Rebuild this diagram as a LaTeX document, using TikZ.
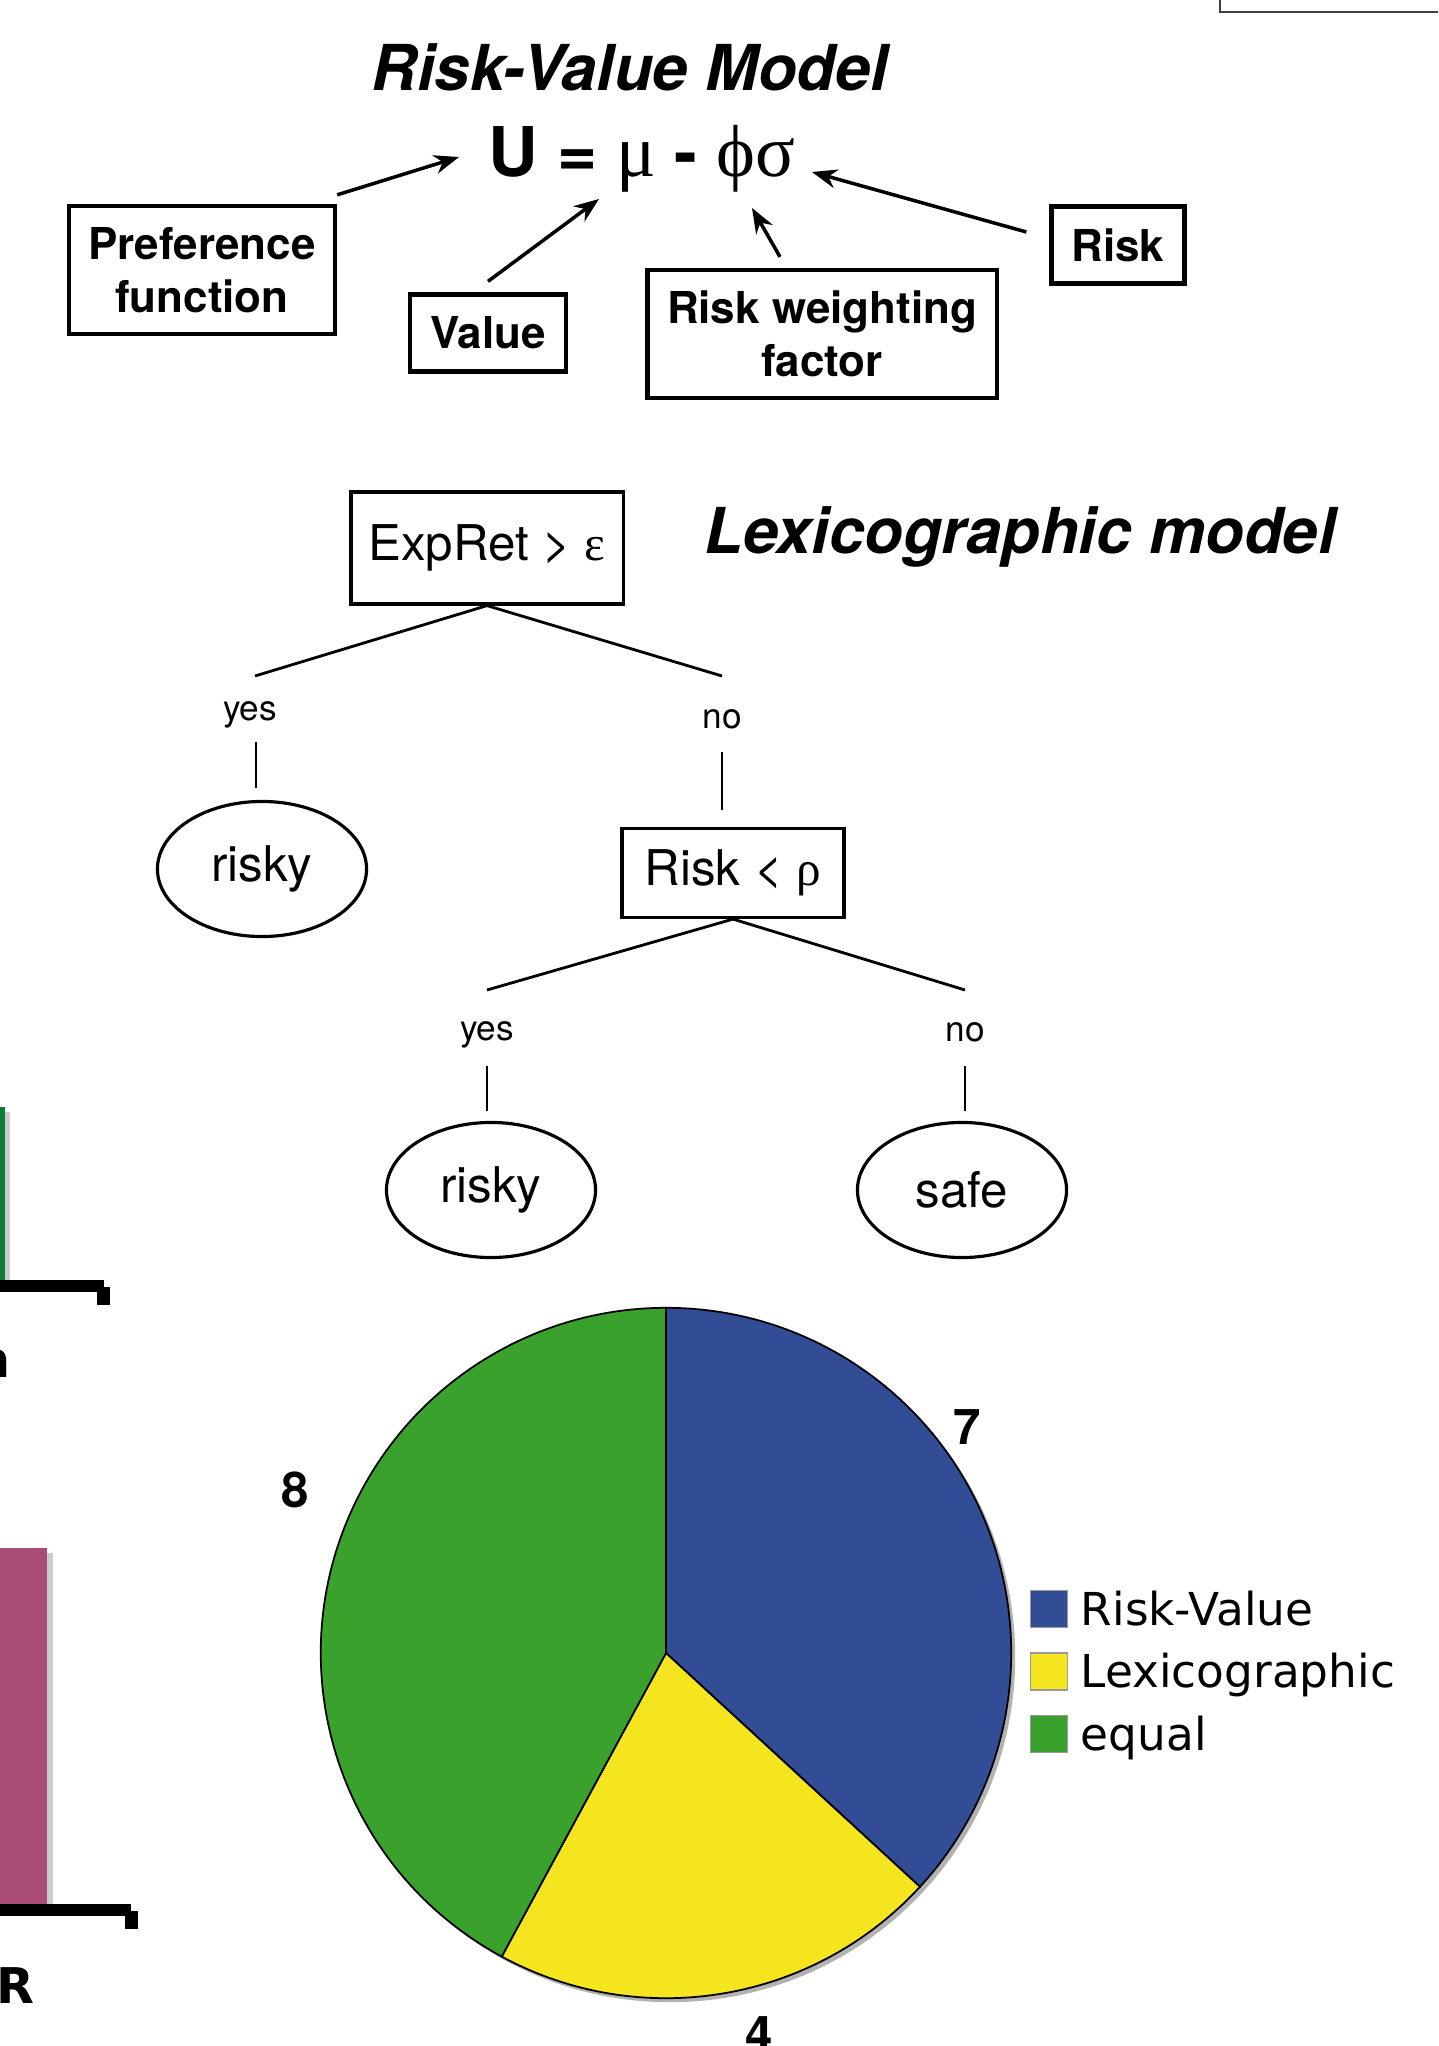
\documentclass[tikz,border=0pt]{standalone}
\usepackage{fontspec}
\setmainfont{TeX Gyre Heros}
\newfontfamily\symfont{Liberation Serif}
\newfontfamily\legendfont{DejaVu Sans}
\usepackage{tikz}
\usetikzlibrary{shapes,positioning,arrows.meta}

\definecolor{rvblue}{HTML}{334C96}
\definecolor{lexyellow}{HTML}{F5E51F}
\definecolor{eqgreen}{HTML}{3AA22C}
\definecolor{bargreen}{HTML}{0B7B36}
\definecolor{barpink}{HTML}{A94C78}

\newcommand{\grk}[1]{{\symfont\mdseries #1}}

\begin{document}
\begin{tikzpicture}[x=0.01cm,y=-0.01cm,
    >={Stealth[length=0.25cm,width=0.19cm]},
    termbox/.style={draw,line width=1.2pt,align=center,inner sep=0pt,
        font=\fontsize{12.5}{15}\selectfont\bfseries},
    testbox/.style={draw,line width=0.9pt,inner sep=0pt,
        font=\fontsize{14}{17}\selectfont},
    leaf/.style={draw,ellipse,line width=0.9pt,inner sep=0pt,
        minimum width=2.09cm,minimum height=1.35cm,
        font=\fontsize{14}{17}\selectfont},
    answer/.style={inner sep=0pt,anchor=base,text height=5.2pt,text depth=2.1pt,
        font=\fontsize{10}{12}\selectfont},
    branch/.style={line width=0.8pt},
    heading/.style={inner sep=0pt,anchor=base,
        font=\fontsize{18}{22}\selectfont\bfseries\itshape},
    slicecount/.style={inner sep=0pt,font=\fontsize{14}{17}\selectfont\bfseries},
    slice/.style={draw=black,line width=0.5pt},
    swatch/.style={draw=black!40,line width=0.4pt,minimum size=0.37cm,inner sep=0pt},
    legendtext/.style={inner sep=0pt,text height=9.2pt,text depth=0pt,
        font=\legendfont\fontsize{12.9}{15}\selectfont},
    cuttext/.style={inner sep=0pt,font=\legendfont\bfseries\fontsize{14}{17}\selectfont}
]

\useasboundingbox (0,0) rectangle (1438,2046);
\clip (0,0) rectangle (1438,2046);

% risk-value model
\node[heading] (rvtitle) at (630,91) {Risk-Value Model};

\node[inner sep=0pt,
    anchor=base,
    font=\fontsize{19.5}{22}\selectfont\bfseries
] (eq) at (642,177) {U = \grk{\fontsize{21}{24}\selectfont μ} - \grk{\fontsize{21}{24}\selectfont ϕσ}};

\node[termbox,
    minimum width=2.66cm,
    minimum height=1.28cm
] (pref) at (202,270) {Preference\\function};

\node[termbox,
    minimum width=1.56cm,
    minimum height=0.77cm
] (value) at (488,333) {Value};

\node[termbox,
    minimum width=3.49cm,
    minimum height=1.28cm
] (weight) at (822,334) {Risk weighting\\factor};

\node[termbox,
    minimum width=1.33cm,
    minimum height=0.77cm
] (risk) at (1118,245) {Risk};

\coordinate (atU) at (459,157);
\coordinate (atMu) at (599,199);
\coordinate (atPhi) at (752,208);
\coordinate (atSigma) at (812,172);

\draw[->,line width=1pt] ([yshift=0.09cm]pref.north east) -- (atU);
\draw[->,line width=1pt] ([yshift=0.11cm]value.north) -- (atMu);
\draw[->,line width=1pt] ([xshift=-0.42cm,yshift=0.11cm]weight.north) -- (atPhi);
\draw[->,line width=1pt] ([xshift=-0.23cm,yshift=0.13cm]risk.west) -- (atSigma);

% lexicographic model
\node[heading] (lextitle) at (1020,554) {Lexicographic model};

\node[testbox,
    minimum width=2.72cm,
    minimum height=1.12cm
] (expret) at (487,548) {ExpRet > \grk{ε}};

\node[answer] (yes1) at (250,720) {yes};
\node[answer] (no1) at (722,728) {no};

\node[leaf] (risky1) at (262,869) {risky};

\node[testbox,
    minimum width=2.22cm,
    minimum height=0.89cm
] (riskrho) at (733,873) {Risk < \grk{ρ}};

\node[answer] (yes2) at (487,1040) {yes};
\node[answer] (no2) at (965,1041) {no};

\node[leaf] (risky2) at (491,1190) {risky};
\node[leaf] (safe) at (962,1190) {safe};

\draw[branch] (expret.south) -- ([xshift=0.05cm,yshift=0.25cm]yes1.north);
\draw[branch] (expret.south) -- ([yshift=0.33cm]no1.north);
\draw[branch] ([xshift=0.06cm,yshift=-0.14cm]yes1.south) -- ([xshift=0.06cm,yshift=0.12cm]yes1.south |- risky1.north);
\draw[branch] ([yshift=-0.16cm]no1.south) -- ([yshift=0.17cm]no1.south |- riskrho.north);

\draw[branch] (riskrho.south) -- ([yshift=0.31cm]yes2.north);
\draw[branch] (riskrho.south) -- ([yshift=0.32cm]no2.north);
\draw[branch] ([yshift=-0.18cm]yes2.south) -- ([yshift=0.1cm]yes2.south |- risky2.north);
\draw[branch] ([yshift=-0.17cm]no2.south) -- ([yshift=0.1cm]no2.south |- safe.north);

% pie chart
\coordinate (pie) at (666,1653);
\fill[black!30] ([shift={(0.04cm,-0.04cm)}]pie) circle[radius=3.45cm];
\filldraw[slice,fill=rvblue] (pie) -- ++(90:3.45cm)
    arc[start angle=90,end angle=-42.63,radius=3.45cm] -- cycle;
\filldraw[slice,fill=lexyellow] (pie) -- ++(-42.63:3.45cm)
    arc[start angle=-42.63,end angle=-118.42,radius=3.45cm] -- cycle;
\filldraw[slice,fill=eqgreen] (pie) -- ++(-118.42:3.45cm)
    arc[start angle=-118.42,end angle=-270,radius=3.45cm] -- cycle;

\node[slicecount] (count7) at (967,1427) {7};
\node[slicecount] (count8) at (295,1490) {8};
\node[slicecount] (count4) at (759,2034) {4};

\node[swatch,fill=rvblue] (keyrv) at (1049,1609) {};
\node[swatch,fill=lexyellow,below=0.24cm of keyrv] (keylex) {};
\node[swatch,fill=eqgreen,below=0.24cm of keylex] (keyeq) {};

\node[legendtext,right=0.12cm of keyrv] (txtrv) {Risk-Value};
\node[legendtext,right=0.12cm of keylex] (txtlex) {Lexicographic};
\node[legendtext,right=0.12cm of keyeq] (txteq) {equal};

% edges of the neighbouring slide
\draw[line width=0.7pt,black!75] (1220,-5) -- (1220,12) -- (1445,12);

\fill[black!20] (5,1112) rectangle (10,1280);
\fill[bargreen] (0,1107) rectangle (5,1280);
\fill[black] (0,1280) rectangle (104,1292);
\fill[black] (97,1287) rectangle (110,1305);
\node[cuttext,anchor=base east] (cutn) at (11,1377) {n};

\fill[black!20] (47,1553) rectangle (53,1904);
\fill[barpink] (0,1548) rectangle (47,1904);
\fill[black] (0,1904) rectangle (131,1916);
\fill[black] (125,1911) rectangle (138,1929);
\node[cuttext,anchor=base west] (cutr) at (-4,2003) {R};

\end{tikzpicture}
\end{document}
